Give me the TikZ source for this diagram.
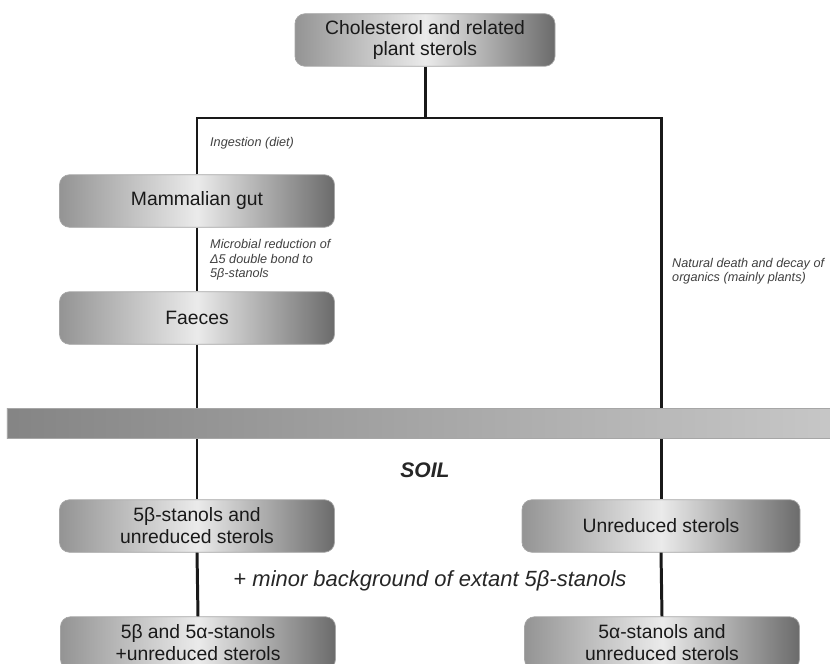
\documentclass[tikz,border=0pt]{standalone}
\usepackage{fontspec}
\setmainfont{Liberation Sans}
\begin{document}
\begin{tikzpicture}[
    box/.style={rectangle, rounded corners=0.2cm, draw=black!35, line width=0.4pt,
        left color=black!42, right color=black!58, middle color=black!8,
        minimum width=5.5cm, minimum height=1.05cm, align=center,
        font=\fontsize{11}{12.5}\selectfont, text=black!90},
    bar/.style={rectangle, draw=black!35, line width=0.4pt, left color=black!48,
        right color=black!22, middle color=black!35, minimum width=16.6cm, minimum height=0.6cm},
    flow/.style={line width=1.7pt, black!90},
    note/.style={align=left, anchor=west, text=black!75,
        font=\fontsize{7.2}{8.2}\selectfont\itshape}
]
\useasboundingbox (0, 0) rectangle (16.6, -13.28);
\node[box, minimum width=5.2cm] (sterols) at (8.5, -0.8) {Cholesterol and related\\plant sterols};
\node[box] (gut) at (3.94, -4.02) {Mammalian gut};
\node[box] (faeces) at (3.94, -6.36) {Faeces};
\node[box] (betamix) at (3.94, -10.52) {5β-stanols and\\unreduced sterols};
\node[box, minimum width=5.56cm] (unreduced) at (13.22, -10.52) {Unreduced sterols};
\node[box] (alphabeta) at (3.96, -12.86) {5β and 5α-stanols\\+unreduced sterols};
\node[box] (alphamix) at (13.24, -12.86) {5α-stanols and\\unreduced sterols};
\coordinate (split) at (8.5, -2.36);
\draw[flow] (sterols.south) -- (split);
\draw[flow] (gut.north) |- (split) -| (unreduced.north);
\draw[flow] (gut.south) -- (faeces.north);
\draw[flow] (faeces.south) -- (betamix.north);
\draw[flow] (betamix.south) -- (alphabeta.north);
\draw[flow] (unreduced.south) -- (alphamix.north);
\node[bar] (soilbar) at (8.44, -8.46) {};
\node[note] (ingest) at (4.08, -2.86) {Ingestion (diet)};
\node[note] (microbe) at (4.08, -5.2) {Microbial reduction of\\Δ5 double bond to\\5β-stanols};
\node[note] (decay) at (13.32, -5.43) {Natural death and decay of\\organics (mainly plants)};
\node[font=\fontsize{12}{14}\selectfont\bfseries\itshape, text=black!85] (soil) at (8.5, -9.4) {SOIL};
\node[font=\fontsize{12.5}{14}\selectfont, text=black!85] (minor) at (8.6, -11.62) {+ \textit{minor background of extant 5β-stanols}};
\end{tikzpicture}
\end{document}
